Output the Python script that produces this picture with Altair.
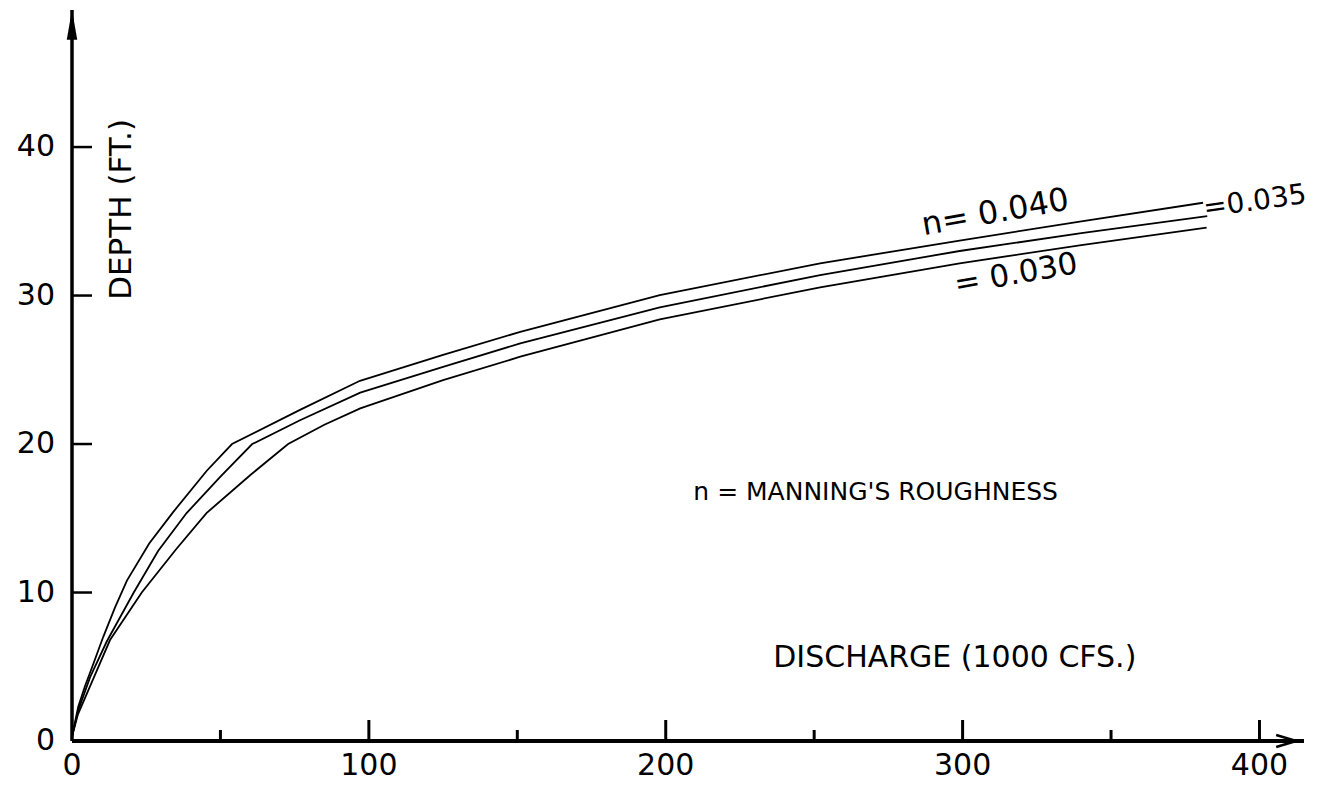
import altair as alt
import pandas as pd

# ---- data ----
# discharge (1000 cfs) and depth (ft) for each Manning's n
q_040 = [0, 2.1, 4.4, 7.2, 10.5, 14.5, 18.5, 26, 34, 45.4, 53.9, 76.8, 97, 125, 151, 198, 252, 299, 340, 381]
d_040 = [0.3, 2.3, 3.7, 5.2, 7.0, 9.0, 10.8, 13.3, 15.4, 18.2, 20.0, 22.3, 24.26, 26.0, 27.56, 30.03, 32.17, 33.7, 35.0, 36.25]

q_035 = [0, 2, 6.1, 11.7, 20.8, 29, 38.6, 50, 60.7, 76.8, 97.1, 125, 151, 198, 252, 299, 340, 382.4]
d_035 = [0.3, 2.0, 4.3, 6.7, 10.0, 12.8, 15.35, 17.8, 20.0, 21.6, 23.46, 25.2, 26.78, 29.2, 31.38, 33.0, 34.2, 35.35]

q_030 = [0, 2, 6.1, 12.8, 23.5, 35, 45.3, 60, 72.8, 85, 97.1, 125, 151, 198, 252, 299, 340, 382.2]
d_030 = [0.3, 1.8, 3.7, 6.8, 10.0, 12.9, 15.35, 17.9, 20.0, 21.3, 22.4, 24.3, 25.88, 28.4, 30.55, 32.17, 33.4, 34.57]

x_labels = [0, 100, 200, 300, 400]
y_labels = [0, 10, 20, 30, 40]
x_major = [100, 200, 300, 400]
x_minor = [50, 150, 250, 350]
y_major = [10, 20, 30, 40]

curve_labels = ["n= 0.040", "=0.035", "= 0.030"]
curve_label_q = [311, 398.5, 318]
curve_label_d = [35.6, 36.3, 31.4]
curve_label_angle = [350, 352, 350]
curve_label_size = [32, 28, 31]

# ---- layout constants ----
XMAX = 415
YMAX = 49.23
W, H = 1232, 731
FONT = "DejaVu Sans"

xs = alt.Scale(domain=[0, XMAX], nice=False, zero=False)
ys = alt.Scale(domain=[0, YMAX], nice=False, zero=False)

rows = []
for name, qs, ds in [("0.040", q_040, d_040), ("0.035", q_035, d_035), ("0.030", q_030, d_030)]:
    for i, (q, d) in enumerate(zip(qs, ds)):
        rows.append({"n": name, "q": q, "d": d, "i": i})
curves = pd.DataFrame(rows)

lines = alt.Chart(curves).mark_line(color="black", strokeWidth=1.8).encode(
    x=alt.X("q:Q", scale=xs, axis=None),
    y=alt.Y("d:Q", scale=ys, axis=None),
    detail="n:N",
    order="i:Q",
)

# axis lines
yaxis_line = alt.Chart(pd.DataFrame({"a": [0]})).mark_rule(color="black", strokeWidth=3.5).encode(
    x=alt.X(datum=0, scale=xs, axis=None),
    y=alt.Y(datum=0, scale=ys, axis=None),
    y2=alt.datum(YMAX),
)
xaxis_line = alt.Chart(pd.DataFrame({"a": [0]})).mark_rule(color="black", strokeWidth=4).encode(
    x=alt.X(datum=0, scale=xs, axis=None),
    x2=alt.datum(XMAX),
    y=alt.Y(datum=0, scale=ys, axis=None),
)

# ticks (drawn inside the plot, as in the original)
ytick = alt.Chart(pd.DataFrame({"v": y_major})).mark_rule(color="black", strokeWidth=2.5).encode(
    y=alt.Y("v:Q", scale=ys, axis=None),
    x=alt.X(datum=0, scale=xs, axis=None),
    x2=alt.datum(20 / (W / XMAX)),
)
xtick_major = alt.Chart(pd.DataFrame({"v": x_major})).mark_rule(color="black", strokeWidth=3).encode(
    x=alt.X("v:Q", scale=xs, axis=None),
    y=alt.Y(datum=0, scale=ys, axis=None),
    y2=alt.datum(21 / (H / YMAX)),
)
xtick_minor = alt.Chart(pd.DataFrame({"v": x_minor})).mark_rule(color="black", strokeWidth=3).encode(
    x=alt.X("v:Q", scale=xs, axis=None),
    y=alt.Y(datum=0, scale=ys, axis=None),
    y2=alt.datum(11 / (H / YMAX)),
)

# tick labels
xlab = alt.Chart(pd.DataFrame({"v": x_labels})).mark_text(
    font=FONT, fontSize=30, color="black", align="center", baseline="top", dy=10
).encode(
    x=alt.X("v:Q", scale=xs, axis=None),
    y=alt.Y(datum=0, scale=ys, axis=None),
    text=alt.Text("v:Q", format="d"),
)
ylab = alt.Chart(pd.DataFrame({"v": y_labels})).mark_text(
    font=FONT, fontSize=30, color="black", align="right", baseline="middle", dx=-17
).encode(
    x=alt.X(datum=0, scale=xs, axis=None),
    y=alt.Y("v:Q", scale=ys, axis=None),
    text=alt.Text("v:Q", format="d"),
)

# arrowheads
y_arrow = alt.Chart(pd.DataFrame({"a": [0]})).mark_point(
    shape="M0,-1L0.35,1L-0.35,1Z", filled=True, color="black", size=900, opacity=1
).encode(
    x=alt.X(datum=0, scale=xs, axis=None),
    y=alt.Y(datum=YMAX - 1.0, scale=ys, axis=None),
)
x_arrow = alt.Chart(pd.DataFrame({"a": [0]})).mark_point(
    shape="M1,0L-1,-0.6M1,0L-1,0.6", filled=False, color="black", size=400, strokeWidth=2.5, opacity=1
).encode(
    x=alt.X(datum=XMAX - 6, scale=xs, axis=None),
    y=alt.Y(datum=0, scale=ys, axis=None),
)

# curve labels
lab_df = pd.DataFrame({"t": curve_labels, "q": curve_label_q, "d": curve_label_d,
                       "ang": curve_label_angle, "fs": curve_label_size})
curve_text = alt.Chart(lab_df).mark_text(font=FONT, color="black", align="center",
                                         baseline="middle").encode(
    x=alt.X("q:Q", scale=xs, axis=None),
    y=alt.Y("d:Q", scale=ys, axis=None),
    text="t:N",
    angle=alt.Angle("ang:Q", scale=None),
    size=alt.Size("fs:Q", scale=None, legend=None),
)

ytitle = alt.Chart(pd.DataFrame({"a": [0]})).mark_text(
    text="DEPTH (FT.)", font=FONT, fontSize=31, color="black", angle=270, align="center", baseline="middle"
).encode(
    x=alt.X(datum=16.8, scale=xs, axis=None),
    y=alt.Y(datum=35.8, scale=ys, axis=None),
)
xtitle = alt.Chart(pd.DataFrame({"a": [0]})).mark_text(
    text="DISCHARGE (1000 CFS.)", font=FONT, fontSize=30, color="black", align="left", baseline="middle"
).encode(
    x=alt.X(datum=236.2, scale=xs, axis=None),
    y=alt.Y(datum=5.6, scale=ys, axis=None),
)
note = alt.Chart(pd.DataFrame({"a": [0]})).mark_text(
    text="n = MANNING'S ROUGHNESS", font=FONT, fontSize=25, color="black", align="left", baseline="middle"
).encode(
    x=alt.X(datum=209.3, scale=xs, axis=None),
    y=alt.Y(datum=16.8, scale=ys, axis=None),
)

chart = alt.layer(
    lines, yaxis_line, xaxis_line, ytick, xtick_major, xtick_minor, xlab, ylab, y_arrow, x_arrow,
    curve_text, ytitle, xtitle, note
).properties(
    width=W, height=H,
    autosize=alt.AutoSizeParams(type="none"),
    padding={"left": 64, "top": 2, "right": 10, "bottom": 42},
    background="white",
).configure_view(stroke=None)

chart.save("out.html", embed_options={"renderer": "svg", "actions": False})
